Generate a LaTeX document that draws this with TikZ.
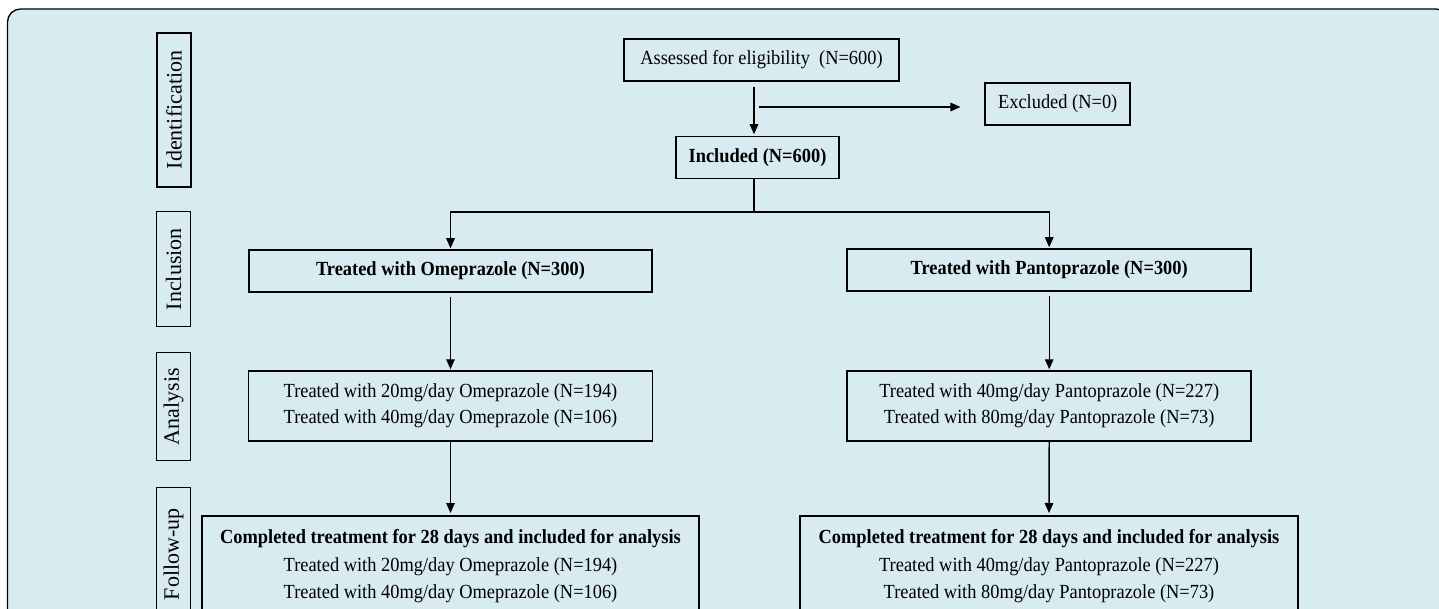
\documentclass[tikz,border=0pt]{standalone}
\usepackage{fontspec}
\setmainfont[FakeStretch=0.92]{Liberation Serif}
\newfontfamily\sidefont{Liberation Serif}
\usetikzlibrary{arrows.meta}
\definecolor{bgblue}{RGB}{215,235,240}
\begin{document}
\begin{tikzpicture}[x=1pt,y=-1pt,
  box/.style={draw=black, line width=1.5pt, inner sep=0pt, align=center, font=\fontsize{20}{26}\selectfont},
  boldbox/.style={box, font=\fontsize{20}{26}\selectfont\bfseries},
  fubox/.style={draw=black, line width=1.5pt, inner xsep=0pt, inner ysep=14pt, align=center, anchor=north, font=\fontsize{20}{27.5}\selectfont},
  side/.style={draw=black, line width=1.5pt, inner sep=0pt, rotate=90, font=\sidefont\fontsize{22}{26}\selectfont, minimum height=34pt},
  arr/.style={line width=1.4pt, -{Triangle[length=10pt,width=8.5pt]}},
  ln/.style={line width=1.4pt}]
\clip (0,0) rectangle (1439,609);
\draw[fill=bgblue, line width=1.3pt, rounded corners=13pt] (7.5,9) rectangle (1449,680);

% side labels
\node[side, minimum width=154pt] (sid1) at (174,110) {Identification};
\node[side, minimum width=115pt] (sid2) at (173.5,269.2) {Inclusion};
\node[side, minimum width=108pt] (sid3) at (173.5,406.7) {Analysis};
\node[side, minimum width=133pt] (sid4) at (173.5,554.2) {Follow-up};

% main boxes
\node[box, minimum width=275pt, minimum height=42pt] (assess) at (761.5,60) {Assessed for eligibility\ \ (N=600)};
\node[boldbox, minimum width=163pt, minimum height=42pt] (incl) at (757.5,157.5) {Included (N=600)};
\node[box, minimum width=145pt, minimum height=42pt] (excl) at (1057.7,104) {Excluded (N=0)};
\node[boldbox, minimum width=403pt, minimum height=42pt] (ome) at (450.5,271) {Treated with Omeprazole (N=300)};
\node[boldbox, minimum width=404pt, minimum height=42pt] (pan) at (1049.2,270) {Treated with Pantoprazole (N=300)};
\node[box, minimum width=404pt, minimum height=70pt] (omeA) at (450.5,406) {Treated with 20mg/day Omeprazole (N=194)\\Treated with 40mg/day Omeprazole (N=106)};
\node[box, minimum width=404pt, minimum height=70pt] (panA) at (1049.2,406) {Treated with 40mg/day Pantoprazole (N=227)\\Treated with 80mg/day Pantoprazole (N=73)};
\node[fubox, minimum width=497pt] (omeF) at (450.5,515) {\textbf{Completed treatment for 28 days and included for analysis}\\Treated with 20mg/day Omeprazole (N=194)\\Treated with 40mg/day Omeprazole (N=106)};
\node[fubox, minimum width=498pt] (panF) at (1049,515) {\textbf{Completed treatment for 28 days and included for analysis}\\Treated with 40mg/day Pantoprazole (N=227)\\Treated with 80mg/day Pantoprazole (N=73)};

% connectors
\coordinate (ax) at (754,0);
\coordinate (split) at (759,107);
\coordinate (branch) at (754,212);
\draw[arr, shorten <=5pt, shorten >=1.5pt] (assess.south -| ax) -- (incl.north -| ax);
\draw[arr, shorten >=24pt] (split) -- (split -| excl.west);
\draw[ln] (incl.south -| ax) -- (branch);
\draw[arr, shorten >=1pt] (branch) -| (ome.north);
\draw[arr, shorten >=1pt] (branch) -| (pan.north);
\draw[arr, shorten <=4pt, shorten >=1pt] (ome.south) -- (omeA.north);
\draw[arr, shorten <=4pt, shorten >=1pt] (pan.south) -- (panA.north);
\draw[arr, shorten >=2pt] (omeA.south) -- (omeF.north);
\draw[arr, shorten >=2pt] (panA.south) -- (panF.north);
\end{tikzpicture}
\end{document}
